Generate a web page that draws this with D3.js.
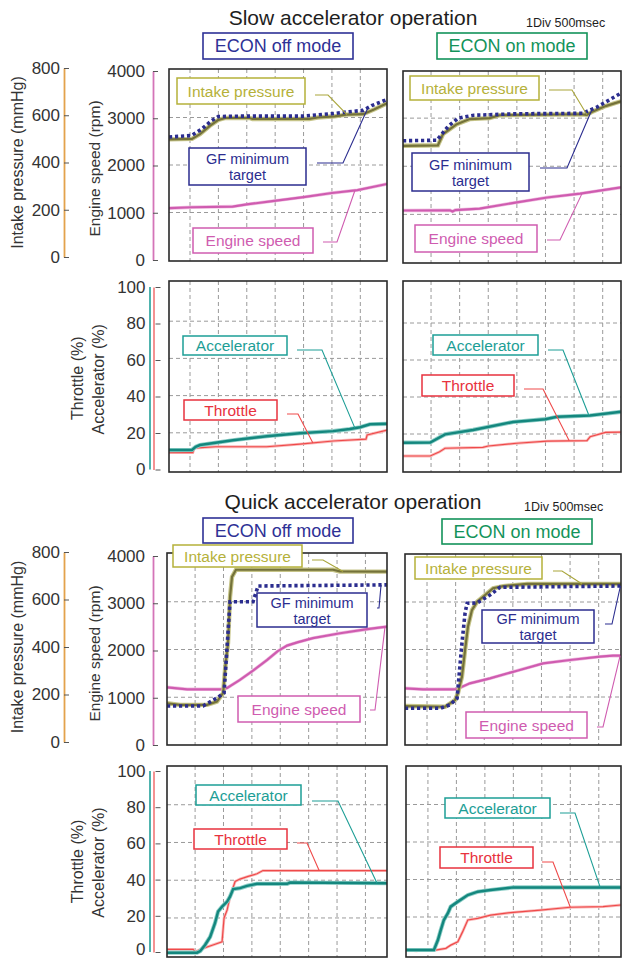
<!DOCTYPE html>
<html><head><meta charset="utf-8">
<script src="https://cdn.jsdelivr.net/npm/d3@7"></script>
<style>body{margin:0;background:#fff}svg{display:block}</style>
</head><body><svg id="c" width="622" height="958"></svg>
<script>
// ===== DATA (time in divisions; 1 Div = 500 msec) =====
// tick labels
const intakeTicks = [0, 200, 400, 600, 800];     // mmHg
const rpmTicks    = [0, 1000, 2000, 3000, 4000]; // rpm
const pctTicks    = [0, 20, 40, 60, 80, 100];    // %
const divTicks    = [1, 2, 3, 4, 5, 6, 7];       // divisions

// Slow accelerator operation, ECON off
const slowOffIntake = [[0.26,508],[1.07,510],[1.35,530],[1.7,565],[2.0,590],[2.25,598],[3.1,598],[3.2,594],[5.2,594],[5.5,600],[6.1,605],[6.5,612],[7.1,614],[7.5,635],[7.94,660]];
const slowOffGF     = [[0.26,2590],[1.05,2620],[1.4,2750],[1.75,2930],[2.0,3020],[3.0,3030],[5.0,3030],[6.0,3080],[6.6,3120],[7.1,3150],[7.4,3250],[7.94,3380]];
const slowOffEngine = [[0.26,1090],[1.07,1110],[2.5,1125],[3.0,1170],[3.9,1240],[5.0,1325],[6.0,1410],[6.9,1470],[7.94,1600]];
const slowOffAccel  = [[0.26,10.7],[1.07,10.8],[1.2,12.5],[1.35,13.4],[2.51,16],[3.71,18.2],[4.87,19.8],[6.04,20.9],[6.63,22],[6.99,23],[7.34,24.6],[7.94,24.8]];
const slowOffThrottle = [[0.26,9.3],[1.1,9.3],[1.15,11.8],[1.9,12.5],[3.7,12.5],[4.87,13.9],[6.04,15.6],[7.2,16.6],[7.24,18.8],[7.94,21.4]];

// Slow accelerator operation, ECON on
const slowOnIntake = [[0.02,485],[1.24,487],[1.42,534],[1.9,575],[2.35,596],[3.05,600],[3.4,612],[6.2,616],[6.45,614],[6.66,628],[7.1,650],[7.64,670]];
const slowOnGF     = [[0.02,2530],[1.2,2540],[1.6,2830],[1.95,3000],[2.5,3060],[4.0,3090],[6.3,3100],[6.8,3230],[7.64,3520]];
const slowOnEngine = [[0.02,1080],[1.66,1085],[1.75,1060],[1.85,1090],[2.7,1120],[4.0,1250],[5.06,1350],[6.21,1430],[7.64,1560]];
const slowOnAccel  = [[0.02,15.3],[0.97,15.4],[1.49,19.8],[2.47,22.2],[3.87,26.5],[4.99,28],[5.41,29.3],[6.56,30],[7.64,32]];
const slowOnThrottle = [[0.02,8.1],[0.97,8.1],[1.3,10.4],[1.49,12.3],[2.81,12.8],[3.0,13.5],[4.0,15],[5.06,16.2],[6.45,16.4],[6.56,18.5],[7.1,20.9],[7.64,21]];

// Quick accelerator operation, ECON off
const quickOffIntake = [[0.01,175],[0.47,168],[1.42,168],[1.77,182],[1.99,218],[2.06,323],[2.16,428],[2.23,620],[2.3,704],[2.44,734],[5.86,734],[6.1,727],[7.76,726]];
const quickOffGF     = [[0.01,818],[1.28,818],[1.77,985],[2.02,1090],[2.23,3000],[3.04,3000],[3.22,3330],[7.76,3354]];
const quickOffEngine = [[0.01,1209],[0.72,1167],[1.95,1167],[2.13,1195],[2.58,1363],[3.04,1558],[3.54,1782],[3.9,1960],[4.24,2082],[4.6,2150],[5.15,2237],[6.11,2341],[7.06,2425],[7.76,2480]];
const quickOffAccel  = [[0.01,1.6],[1.07,1.6],[1.18,2.5],[1.35,5.7],[1.53,10],[1.7,17.2],[1.81,23.4],[1.95,26],[2.13,28.7],[2.23,31.3],[2.34,35.3],[2.58,35.8],[2.83,37],[3.18,38.1],[4.24,38.1],[4.35,38.8],[7.76,38.4]];
const quickOffThrottle = [[0.01,3.4],[0.93,3.4],[1.0,2.1],[1.28,3.9],[1.63,5.7],[1.95,7.4],[2.02,20],[2.13,24.3],[2.23,31.3],[2.41,39.3],[2.58,40.6],[2.87,42],[3.18,43.4],[3.39,45.1],[7.76,45.1]];

// Quick accelerator operation, ECON on
const quickOnIntake = [[0.23,162],[1.63,159],[1.98,187],[2.08,216],[2.22,285],[2.33,398],[2.43,496],[2.57,566],[2.75,601],[2.96,622],[3.31,658],[3.66,667],[4.5,676],[7.78,676]];
const quickOnGF     = [[0.23,762],[1.45,762],[1.8,832],[2.05,973],[2.22,2130],[2.33,2768],[2.4,2973],[2.75,2980],[3.2,3147],[3.55,3309],[7.78,3337]];
const quickOnEngine = [[0.23,1183],[0.86,1162],[1.91,1162],[2.05,1168],[2.5,1288],[3.2,1393],[4.15,1554],[5.06,1709],[6.0,1779],[7.05,1849],[7.5,1870],[7.78,1870]];
const quickOnAccel  = [[0.23,2.4],[1.21,2.4],[1.35,7.7],[1.45,13],[1.56,18.4],[1.7,22],[1.8,25.5],[2.05,28.2],[2.4,31.7],[2.75,33.5],[3.2,34.4],[4.0,35.8],[7.78,35.8]];
const quickOnThrottle = [[0.23,2.4],[0.6,2.0],[0.9,2.6],[1.21,2.2],[1.63,3.3],[1.8,5],[2.05,6.8],[2.22,12.2],[2.4,18.4],[2.75,19.3],[3.2,21],[4.0,22.5],[4.95,23.7],[6.0,25.2],[7.15,25.5],[7.78,26.4]];

// ===== STYLE / LAYOUT =====
const FONT = '"Liberation Sans", Arial, Helvetica, sans-serif';
const C = {
  intake: '#74723a', intakeHalo: '#c6c488', intakeLbl: '#b5b13a',
  gf: '#2b2d8f', eng: '#cf5cb0', engHalo: '#f0bde0',
  accel: '#14877e', accelHalo: '#8fcfc8', accelLbl: '#1d9e96',
  thr: '#ef4a4a', thrHalo: '#f9baba', thrLbl: '#e8323e',
  grid: '#9a9a9a', frame: '#2a2a2a', text: '#333',
  off: '#2e3196', on: '#13935a', axIntake: '#e3a24c', axEng: '#d474b8',
  axAcc: '#23a19a', axThr: '#f06464'
};

const svg = d3.select('#c');

function txt(x, y, s, size, color, anchor, g) {
  return (g || svg).append('text').attr('x', x).attr('y', y).text(s)
    .attr('font-family', FONT).attr('font-size', size).attr('fill', color)
    .attr('text-anchor', anchor || 'start');
}

// titles
function header(y, title, ds, offBox, onBox) {
  txt(353, y, title, 21, '#1e1e1e', 'middle');
  txt(ds, y + 2, '1Div 500msec', 12.5, '#1e1e1e');
  [[offBox, 'ECON off mode', C.off], [onBox, 'ECON on mode', C.on]].forEach(([b, s, col]) => {
    svg.append('rect').attr('x', b[0]).attr('y', b[1]).attr('width', b[2] - b[0]).attr('height', b[3] - b[1])
      .attr('fill', '#fff').attr('stroke', col).attr('stroke-width', 1.6);
    txt((b[0] + b[2]) / 2, (b[1] + b[3]) / 2 + 6.4, s, 18, col, 'middle');
  });
}
header(25, 'Slow accelerator operation', 526, [203, 33, 353, 59], [437, 33, 587, 59]);
header(509, 'Quick accelerator operation', 524, [203, 518, 353, 543], [442, 519, 592, 544]);

// axes
function axis(x, dom, range, ticks, color, pad) {
  const s = d3.scaleLinear().domain(dom).range(range);
  const g = svg.append('g').attr('transform', `translate(${x},0)`)
    .call(d3.axisLeft(s).tickValues(ticks).tickSizeInner(-5).tickSizeOuter(0).tickPadding(pad).tickFormat(d3.format('d')));
  g.attr('font-family', FONT).attr('font-size', 17);
  g.select('.domain').attr('stroke', color).attr('stroke-width', 1.8);
  g.selectAll('.tick line').attr('stroke', '#555');
  g.selectAll('.tick text').attr('fill', C.text);
  return g;
}
function vtitle(x, y, s, size) {
  svg.append('text').attr('transform', `translate(${x},${y}) rotate(-90)`).attr('dy', '0.35em')
    .attr('text-anchor', 'middle').attr('font-family', FONT).attr('font-size', size).attr('fill', C.text).text(s);
}
function topAxes(intakeR, engR) {
  axis(64, [0, 800], intakeR, intakeTicks, C.axIntake, 4);
  axis(153, [0, 4000], engR, rpmTicks, C.axEng, 8);
  const mid = (intakeR[0] + intakeR[1]) / 2;
  vtitle(17, mid, 'Intake pressure (mmHg)', 16);
  vtitle(95, (engR[0] + engR[1]) / 2 + 3, 'Engine speed (rpm)', 15.5);
}
function pctAxes(r, zeroShift) {
  svg.append('line').attr('x1', 150).attr('x2', 150).attr('y1', r[0]).attr('y2', r[1])
    .attr('stroke', C.axAcc).attr('stroke-width', 1.6);
  const g = axis(153.5, [0, 100], r, pctTicks, C.axThr, 8);
  g.select('.domain').attr('stroke-width', 1.4);
  g.selectAll('.tick line').attr('x1', 2).attr('x2', 7);
  if (zeroShift) g.selectAll('.tick text').filter(d => d === 0).attr('y', -zeroShift);
  const m = (r[0] + r[1]) / 2;
  vtitle(77, m, 'Throttle (%)', 16);
  vtitle(98, m + 1, 'Accelerator (%)', 16);
}
topAxes([257, 68], [260, 71]);
pctAxes([469.5, 287], 0);
topAxes([742, 552], [745, 556]);
pctAxes([952, 771], 3);

// panels
let clipId = 0;
function interp(series, t) {
  for (let i = 1; i < series.length; i++) {
    if (t <= series[i][0]) {
      const a = series[i - 1], b = series[i];
      return a[1] + (b[1] - a[1]) * (t - a[0]) / (b[0] - a[0]);
    }
  }
  return series[series.length - 1][1];
}
function panel(p) {
  const [x0, y0, x1, y1] = p.box;
  const x = d3.scaleLinear().domain(p.xd).range([x0, x1]);
  const scales = {};
  let hgrid;
  if (p.kind === 'eng') {
    scales.eng = d3.scaleLinear().domain([0, 4000]).range(p.yr);
    scales.intake = d3.scaleLinear().domain([0, 800]).range(p.yr);
    scales.gf = scales.eng;
    hgrid = rpmTicks.slice(1, -1).map(v => scales.eng(v));
  } else {
    scales.accel = d3.scaleLinear().domain([0, 100]).range(p.yr);
    scales.thr = scales.accel;
    hgrid = pctTicks.slice(1, -1).map(v => scales.accel(v));
  }
  const g = svg.append('g');
  g.append('rect').attr('x', x0).attr('y', y0).attr('width', x1 - x0).attr('height', y1 - y0).attr('fill', '#fff');
  const id = 'clip' + (clipId++);
  g.append('clipPath').attr('id', id).append('rect').attr('x', x0).attr('y', y0).attr('width', x1 - x0).attr('height', y1 - y0);
  // grid
  g.selectAll('.vg').data(divTicks).enter().append('line')
    .attr('x1', d => x(d)).attr('x2', d => x(d)).attr('y1', y0).attr('y2', y1)
    .attr('stroke', C.grid).attr('stroke-width', 1).attr('stroke-dasharray', '4 3');
  g.selectAll('.hg').data(hgrid).enter().append('line')
    .attr('x1', x0).attr('x2', x1).attr('y1', d => d).attr('y2', d => d)
    .attr('stroke', C.grid).attr('stroke-width', 1).attr('stroke-dasharray', '4 3');
  const lg = g.append('g').attr('clip-path', `url(#${id})`);
  const styles = {
    eng: [[C.engHalo, 3.4, null], [C.eng, 2.2, null]],
    intake: [[C.intakeHalo, 4.4, null], [C.intake, 2.2, null]],
    gf: [[C.gf, 3.6, '3.2 2.8']],
    thr: [[C.thrHalo, 2.8, null], [C.thr, 1.2, null]],
    accel: [[C.accelHalo, 4.2, null], [C.accel, 2.5, null]]
  };
  p.order.forEach(k => {
    const data = p.series[k];
    const line = d3.line().x(d => x(d[0])).y(d => scales[k](d[1]));
    styles[k].forEach(([col, w, dash]) => {
      const path = lg.append('path').datum(data).attr('d', line).attr('fill', 'none')
        .attr('stroke', col).attr('stroke-width', w).attr('stroke-linejoin', 'miter');
      if (dash) path.attr('stroke-dasharray', dash);
    });
  });
  g.append('rect').attr('x', x0).attr('y', y0).attr('width', x1 - x0).attr('height', y1 - y0)
    .attr('fill', 'none').attr('stroke', C.frame).attr('stroke-width', 1.6);
  // labels with leader lines ending on the series
  p.labels.forEach(l => {
    const k = l.series;
    const end = [x(l.t), scales[k](interp(p.series[k], l.t))];
    svg.append('polyline').attr('points', [...l.leader, end].map(q => q.join(',')).join(' '))
      .attr('fill', 'none').attr('stroke', l.line).attr('stroke-width', 1.1);
    const b = l.box;
    svg.append('rect').attr('x', b[0]).attr('y', b[1]).attr('width', b[2] - b[0]).attr('height', b[3] - b[1])
      .attr('fill', '#fff').attr('stroke', l.color).attr('stroke-width', 1.5);
    const cx = (b[0] + b[2]) / 2;
    if (l.text.length === 1) {
      txt(cx, (b[1] + b[3]) / 2 + 5.6, l.text[0], 15.5, l.color, 'middle');
    } else {
      const cy = (b[1] + b[3]) / 2;
      txt(cx, cy - 2.5, l.text[0], 14.5, l.color, 'middle');
      txt(cx, cy + 13.5, l.text[1], 14.5, l.color, 'middle');
    }
  });
}

const L = {
  intake: (box, leader, t) => ({ series: 'intake', text: ['Intake pressure'], box, leader, t, color: C.intakeLbl, line: '#a9a53a' }),
  gf: (box, leader, t) => ({ series: 'gf', text: ['GF minimum', 'target'], box, leader, t, color: C.gf, line: C.gf }),
  eng: (box, leader, t) => ({ series: 'eng', text: ['Engine speed'], box, leader, t, color: C.eng, line: C.eng }),
  accel: (box, leader, t) => ({ series: 'accel', text: ['Accelerator'], box, leader, t, color: C.accelLbl, line: C.accelLbl }),
  thr: (box, leader, t) => ({ series: 'thr', text: ['Throttle'], box, leader, t, color: C.thrLbl, line: C.thr })
};

panel({ kind: 'eng', box: [169, 69, 387, 261], xd: [0.26, 7.94], yr: [260, 70], order: ['eng', 'intake', 'gf'],
  series: { intake: slowOffIntake, gf: slowOffGF, eng: slowOffEngine },
  labels: [L.intake([177, 78, 305, 104], [[315, 95], [328, 95]], 6.53),
           L.gf([189, 148, 306, 185], [[317, 163], [343, 163]], 7.27),
           L.eng([193, 228, 313, 253], [[323, 242], [337, 242]], 6.81)] });
panel({ kind: 'eng', box: [403, 71, 621, 263], xd: [0.02, 7.64], yr: [262.5, 70], order: ['eng', 'intake', 'gf'],
  series: { intake: slowOnIntake, gf: slowOnGF, eng: slowOnEngine },
  labels: [L.intake([410, 76, 539, 100], [[549, 90], [572, 90]], 6.45),
           L.gf([412, 153, 529, 191], [[540, 168], [567, 168]], 6.63),
           L.eng([415, 225, 537, 252], [[547, 240], [560, 240]], 6.28)] });
panel({ kind: 'pct', box: [169, 281, 387, 472], xd: [0.26, 7.94], yr: [470, 284], order: ['thr', 'accel'],
  series: { accel: slowOffAccel, thr: slowOffThrottle },
  labels: [L.accel([183, 336, 287, 355], [[297, 350], [322, 350]], 6.81),
           L.thr([184, 400, 277, 420], [[287, 414], [298, 414]], 5.33)] });
panel({ kind: 'pct', box: [403, 281, 621, 472], xd: [0.02, 7.64], yr: [471, 286], order: ['thr', 'accel'],
  series: { accel: slowOnAccel, thr: slowOnThrottle },
  labels: [L.accel([433, 335, 538, 355], [[548, 350], [563, 350]], 6.52),
           L.thr([422, 375, 514, 396], [[524, 389], [543, 389]], 5.83)] });
panel({ kind: 'eng', box: [167, 553, 387, 745], xd: [0.01, 7.76], yr: [745, 554], order: ['eng', 'intake', 'gf'],
  series: { intake: quickOffIntake, gf: quickOffGF, eng: quickOffEngine },
  labels: [L.intake([173, 545, 302, 567], [[312, 560], [323, 560]], 6.21),
           L.gf([257, 593, 367, 627], [[377, 608], [379, 608]], 7.55),
           L.eng([238, 696, 360, 722], [[370, 710], [375, 710]], 7.69)] });
panel({ kind: 'eng', box: [405, 554, 621, 745], xd: [0.23, 7.78], yr: [744.5, 554.5], order: ['eng', 'intake', 'gf'],
  series: { intake: quickOnIntake, gf: quickOnGF, eng: quickOnEngine },
  labels: [L.intake([415, 557, 542, 579], [[553, 571], [562, 571]], 6.42),
           L.gf([482, 610, 594, 643], [[605, 624], [612, 624]], 7.76),
           L.eng([466, 712, 587, 738], [[597, 727], [603, 727]], 7.75)] });
panel({ kind: 'pct', box: [167, 766, 387, 957], xd: [0.01, 7.76], yr: [955.7, 767], order: ['thr', 'accel'],
  series: { accel: quickOffAccel, thr: quickOffThrottle },
  labels: [L.accel([196, 785, 301, 805], [[312, 801], [338, 801]], 7.41),
           L.thr([194, 829, 287, 849], [[297, 843], [307, 843]], 5.37)] });
panel({ kind: 'pct', box: [406, 766, 621, 957], xd: [0.23, 7.78], yr: [954.5, 767], order: ['thr', 'accel'],
  series: { accel: quickOnAccel, thr: quickOnThrottle },
  labels: [L.accel([445, 798, 550, 818], [[560, 813], [575, 813]], 7.05),
           L.thr([440, 847, 533, 868], [[542, 862], [553, 862]], 6.0)] });
</script></body></html>
